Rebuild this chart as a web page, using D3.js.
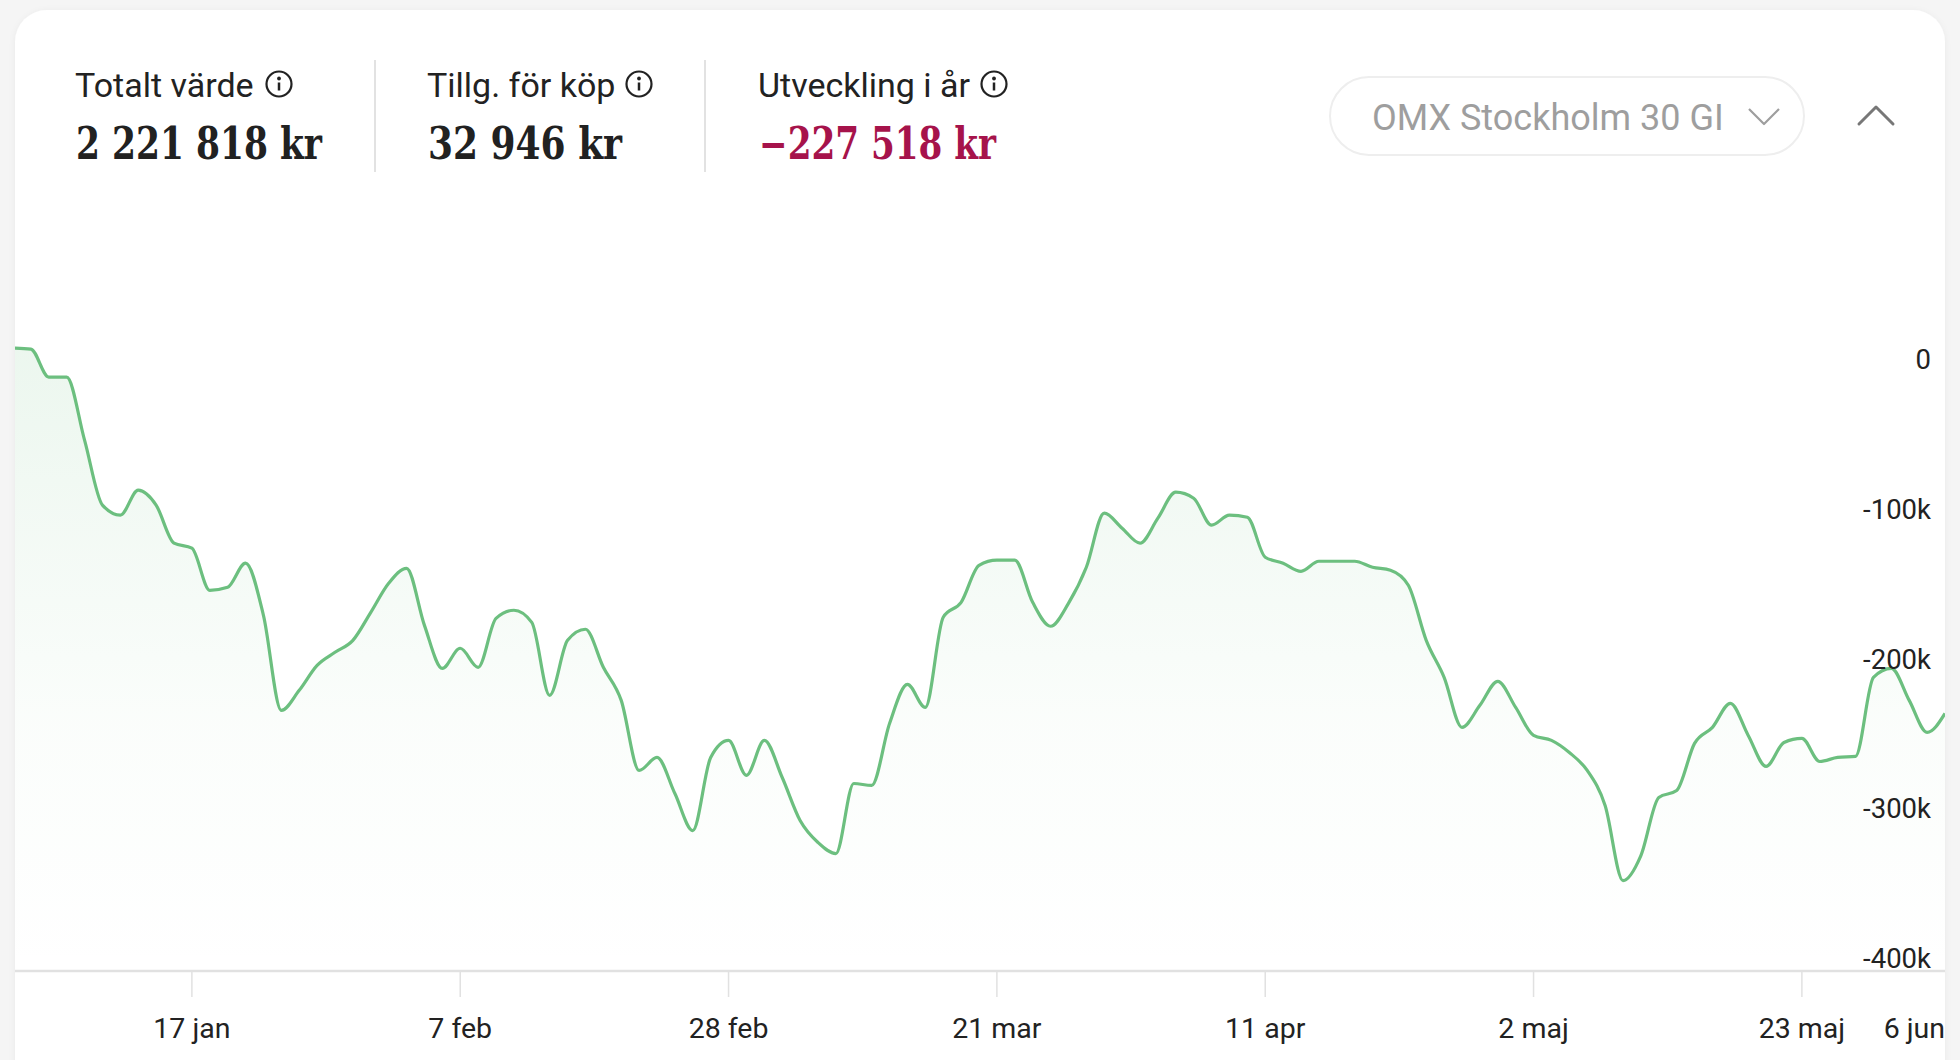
<!DOCTYPE html>
<html>
<head>
<meta charset="utf-8">
<script src="https://cdn.jsdelivr.net/npm/d3@7"></script>
<style>
  html, body { margin: 0; padding: 0; background: #f5f5f5; }
  svg { display: block; }
</style>
</head>
<body>
<svg id="chart" width="1960" height="1060"></svg>
<script>
// ---- data ----
const startDate = new Date(2022, 0, 3);
const endDate = new Date(2022, 5, 3);   // exclusive
// one value per weekday (kr), Jan 3 .. Jun 2 2022
const values = [
  0, -700, -19400, -19400, -61500,
  -104900, -111600, -94900, -104900, -130300,
  -133700, -161800, -159800, -143700, -178500,
  -242000, -228600, -211900, -203200, -195200,
  -176500, -157100, -147100, -185200, -213900,
  -200500, -213200, -180500, -175100, -183200,
  -231900, -195200, -187800, -213200, -235300,
  -282100, -273400, -297500, -322200, -273400,
  -262000, -285400, -262000, -286800, -315500,
  -330200, -337600, -290800, -292100, -250700,
  -224600, -240000, -179800, -169800, -145100,
  -141700, -141700, -169800, -185800, -170500,
  -146400, -110300, -120300, -130300, -113600,
  -96300, -100300, -118300, -111600, -113000,
  -139700, -143700, -149100, -142400, -142400,
  -142400, -146400, -148400, -158400, -195200,
  -219900, -253300, -238600, -222600, -240000,
  -258700, -262000, -270100, -282100, -305500,
  -355600, -338900, -300100, -295500, -264000,
  -253300, -237300, -258700, -279400, -263400,
  -260700, -276100, -273400, -272700, -219900,
  -213900, -235300, -256700, -244000
];
const tickDates = ["2022-01-17", "2022-02-07", "2022-02-28", "2022-03-21", "2022-04-11", "2022-05-02", "2022-05-23"];
const tickLabels = ["17 jan", "7 feb", "28 feb", "21 mar", "11 apr", "2 maj", "23 maj"];
const endLabel = "6 jun";
const yTickValues = [0, -100000, -200000, -300000, -400000];
const yTickLabels = ["0", "-100k", "-200k", "-300k", "-400k"];

const statLabels = ["Totalt värde", "Tillg. för köp", "Utveckling i år"];
const statValues = ["2 221 818 kr", "32 946 kr", "−227 518 kr"];
const benchmarkName = "OMX Stockholm 30 GI";

// ---- build ----
const weekdays = d3.timeDays(startDate, endDate).filter(d => d.getDay() % 6 !== 0);
const data = weekdays.map((d, i) => ({ date: d, idx: i, value: values[i] }));
const idxOf = dt => weekdays.findIndex(w => +w === +dt);

const svg = d3.select("#chart");
const defs = svg.append("defs");

const shadow = defs.append("filter").attr("id", "shadow").attr("x", "-5%").attr("y", "-5%").attr("width", "110%").attr("height", "110%");
shadow.append("feDropShadow").attr("dx", 0).attr("dy", 1).attr("stdDeviation", 3).attr("flood-color", "#000").attr("flood-opacity", 0.05);

const cardX = 15, cardY = 10, cardW = 1930, cardH = 1200;
defs.append("clipPath").attr("id", "cardClip")
  .append("rect").attr("x", cardX).attr("y", cardY).attr("width", cardW).attr("height", cardH).attr("rx", 32);

svg.append("rect")
  .attr("x", cardX).attr("y", cardY).attr("width", cardW).attr("height", cardH)
  .attr("rx", 32).attr("fill", "#ffffff").attr("filter", "url(#shadow)");

// ---- header ----
const header = svg.append("g");
const statX = [75, 427, 758];
const iconX = [279, 639, 994];
const valueW = [246, 194, 237];
statLabels.forEach((lab, i) => {
  header.append("text")
    .attr("x", statX[i]).attr("y", 97)
    .attr("font-family", "Roboto, 'Noto Sans', sans-serif")
    .attr("font-size", 34).attr("fill", "#222")
    .text(lab);
  const ic = header.append("g").attr("transform", `translate(${iconX[i]},84)`);
  ic.append("circle").attr("r", 12.5).attr("fill", "none").attr("stroke", "#222").attr("stroke-width", 2.2);
  ic.append("circle").attr("cx", 0).attr("cy", -5.5).attr("r", 1.9).attr("fill", "#222");
  ic.append("line").attr("x1", 0).attr("x2", 0).attr("y1", -1.5).attr("y2", 6.5).attr("stroke", "#222").attr("stroke-width", 2.5);
  header.append("text")
    .attr("x", statX[i] + 1).attr("y", 159)
    .attr("font-family", "'DejaVu Serif', serif")
    .attr("font-weight", "bold")
    .attr("font-size", 44)
    .attr("textLength", valueW[i]).attr("lengthAdjust", "spacingAndGlyphs")
    .attr("fill", i === 2 ? "#a6134b" : "#212121")
    .text(statValues[i]);
});
[375, 705].forEach(x => {
  header.append("line").attr("x1", x).attr("x2", x).attr("y1", 60).attr("y2", 172)
    .attr("stroke", "#e2e2e2").attr("stroke-width", 2);
});

// benchmark pill
header.append("rect").attr("x", 1330).attr("y", 77).attr("width", 474).attr("height", 78).attr("rx", 39)
  .attr("fill", "#fff").attr("stroke", "#eeeeee").attr("stroke-width", 2);
header.append("text").attr("x", 1372).attr("y", 130)
  .attr("font-family", "Roboto, sans-serif").attr("font-size", 36).attr("fill", "#9e9e9e")
  .text(benchmarkName);
header.append("polyline").attr("points", "1749,109 1764,124 1779,109")
  .attr("fill", "none").attr("stroke", "#9e9e9e").attr("stroke-width", 2.2).attr("stroke-linejoin", "round");
header.append("polyline").attr("points", "1859,124 1876,107 1893,124")
  .attr("fill", "none").attr("stroke", "#777").attr("stroke-width", 3).attr("stroke-linecap", "round").attr("stroke-linejoin", "round");

// ---- chart ----
const x = d3.scaleLinear().domain([0, weekdays.length - 1]).range([13, 1945]);
const y = d3.scaleLinear().domain([-416000, 0]).range([971, 348]);

const grad = defs.append("linearGradient").attr("id", "areaGrad")
  .attr("gradientUnits", "userSpaceOnUse").attr("x1", 0).attr("x2", 0).attr("y1", 348).attr("y2", 971);
grad.append("stop").attr("offset", 0).attr("stop-color", "#6cbf80").attr("stop-opacity", 0.13);
grad.append("stop").attr("offset", 0.6).attr("stop-color", "#6cbf80").attr("stop-opacity", 0.03);
grad.append("stop").attr("offset", 1).attr("stop-color", "#6cbf80").attr("stop-opacity", 0.0);

const plot = svg.append("g").attr("clip-path", "url(#cardClip)");

const area = d3.area().x(d => x(d.idx)).y0(y.range()[0]).y1(d => y(d.value)).curve(d3.curveMonotoneX);
const line = d3.line().x(d => x(d.idx)).y(d => y(d.value)).curve(d3.curveMonotoneX);

plot.append("path").datum(data).attr("d", area).attr("fill", "url(#areaGrad)");
plot.append("path").datum(data).attr("d", line)
  .attr("fill", "none").attr("stroke", "#6cbf7f").attr("stroke-width", 3.2).attr("stroke-linejoin", "round");

// x axis
const parse = d3.timeParse("%Y-%m-%d");
const xAxis = plot.append("g");
xAxis.append("line").attr("x1", cardX).attr("x2", cardX + cardW).attr("y1", 971).attr("y2", 971)
  .attr("stroke", "#e1e1e1").attr("stroke-width", 2.5);
tickDates.forEach((s, i) => {
  const xi = x(idxOf(parse(s)));
  xAxis.append("line").attr("x1", xi).attr("x2", xi).attr("y1", 972).attr("y2", 997)
    .attr("stroke", "#e1e1e1").attr("stroke-width", 1.5);
  xAxis.append("text").attr("x", xi).attr("y", 1038).attr("text-anchor", "middle")
    .attr("font-family", "Roboto, sans-serif").attr("font-size", 28.5).attr("fill", "#222")
    .text(tickLabels[i]);
});
xAxis.append("text").attr("x", x.range()[1]).attr("y", 1038).attr("text-anchor", "end")
  .attr("font-family", "Roboto, sans-serif").attr("font-size", 28.5).attr("fill", "#222")
  .text(endLabel);

// y axis labels
const yAxis = svg.append("g");
yTickValues.forEach((v, i) => {
  yAxis.append("text").attr("x", 1931).attr("y", y(v) + 21).attr("text-anchor", "end")
    .attr("font-family", "Roboto, sans-serif").attr("font-size", 27.5).attr("fill", "#222")
    .text(yTickLabels[i]);
});
</script>
</body>
</html>
